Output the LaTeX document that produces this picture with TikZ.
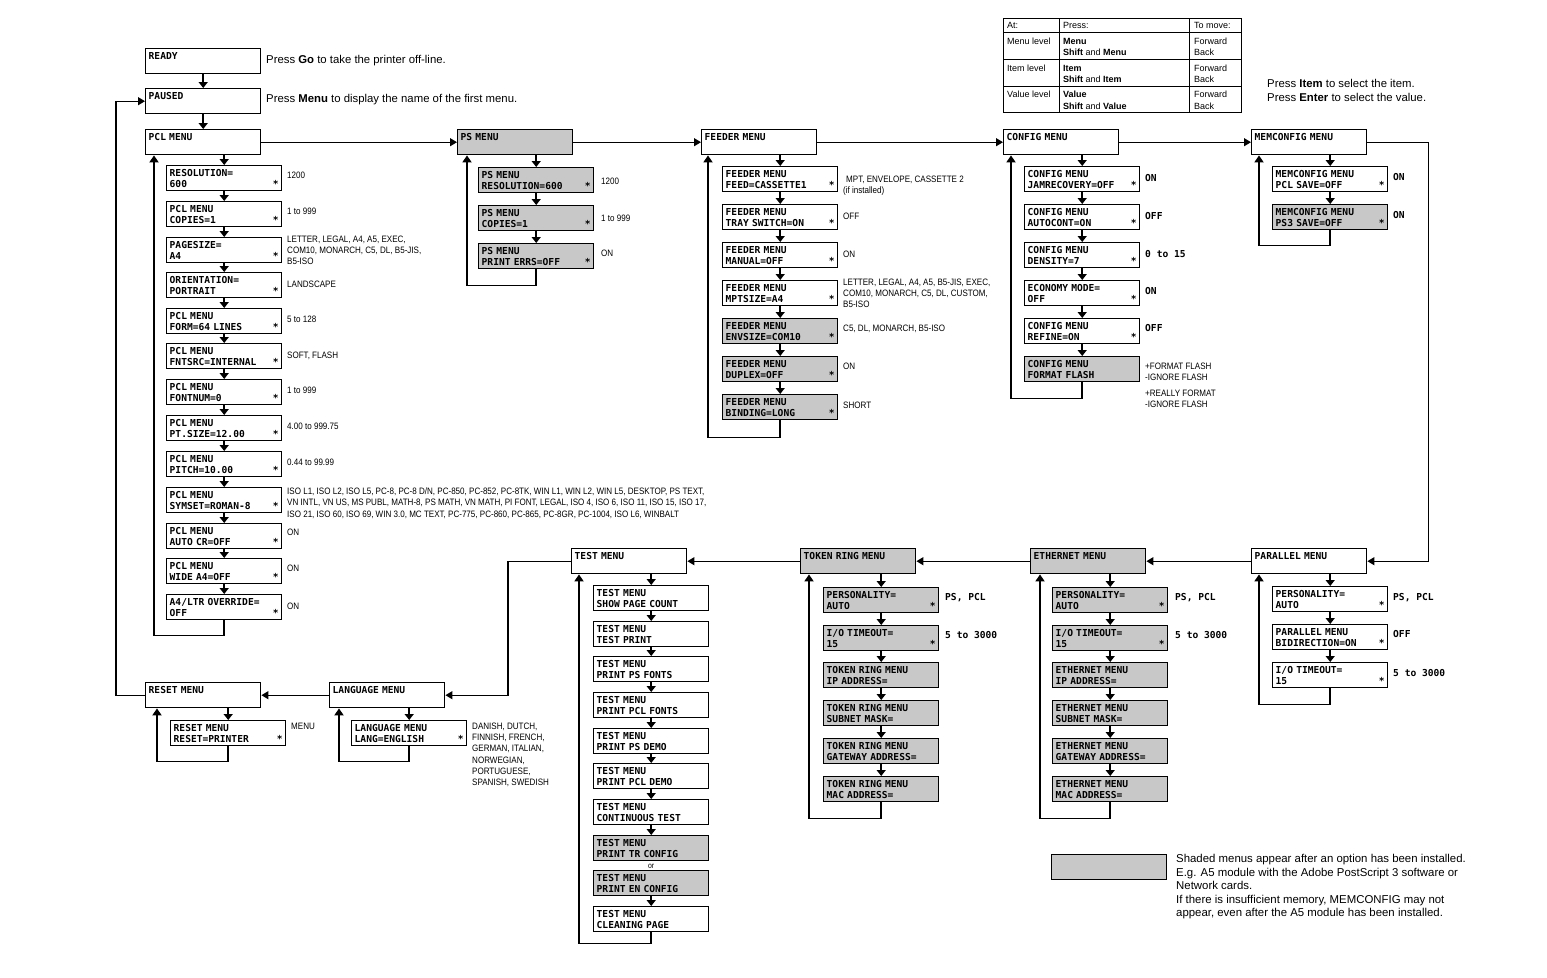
\documentclass[tikz,border=0pt]{standalone}
\usepackage{fontspec}
\setmainfont{Liberation Sans}
\newfontfamily\lcdfont{DejaVu Sans Mono}
\newfontfamily\valfont[FakeStretch=0.865]{Liberation Sans}
\usetikzlibrary{arrows.meta}
\definecolor{shade}{RGB}{200,200,200}
\tikzset{
  box/.style={draw,line width=1.4pt,anchor=north west,minimum width=115pt,minimum height=25pt,text width=109pt,inner xsep=3pt,inner ysep=1pt,align=left,font=\lcdfont\bfseries\fontsize{9.6}{10.8}\selectfont},
  sh/.style={fill=shade},
  dn/.style={line width=1.8pt,-{Triangle[width=9pt,length=6pt]}},
  ret/.style={line width=1.8pt,-{Triangle[width=9pt,length=7pt]}},
  conn/.style={line width=1.3pt,-{Triangle[width=8pt,length=7pt]}},
  val/.style={anchor=north west,inner sep=0pt,align=left,font=\valfont\fontsize{9.3}{11.3}\selectfont},
  lval/.style={anchor=north west,inner sep=0pt,font=\lcdfont\bfseries\fontsize{9.6}{11}\selectfont},
  note/.style={anchor=north west,inner sep=0pt,align=left,font=\fontsize{11.35}{14}\selectfont},
  tab/.style={anchor=west,inner sep=0pt,font=\fontsize{9}{12}\selectfont},
  grid/.style={line width=0.9pt},
}
\newcommand\stm{\hfill*}
\newcommand\ib[6][]{\node[box,#1] (#2) at (#3,#4) {#5\\#6};}
\newcommand\mb[5][]{\node[box,#1] (#2) at (#3,#4) {#5\\~};}
\newcommand\vl[5][val]{\node[#1] (#2) at (#3,#4-3.5) {#5};}
\begin{document}
\begin{tikzpicture}[x=1pt,y=-1pt]
\useasboundingbox (0,0) rectangle (1547,977);

% ---------- main menus ----------
\mb{ready}{145}{48}{READY}
\mb{paused}{145}{88}{PAUSED}
\mb{pcl}{145}{129}{PCL MENU}
\mb[sh]{ps}{457}{129}{PS MENU}
\mb{feed}{701}{129}{FEEDER MENU}
\mb{conf}{1003}{129}{CONFIG MENU}
\mb{mem}{1251}{129}{MEMCONFIG MENU}
\mb{par}{1251}{548}{PARALLEL MENU}
\mb[sh]{eth}{1030}{548}{ETHERNET MENU}
\mb[sh]{tok}{800}{548}{TOKEN RING MENU}
\mb{test}{571}{548}{TEST MENU}
\mb{lang}{329}{682}{LANGUAGE MENU}
\mb{reset}{145}{682}{RESET MENU}

\node[note] (n1) at (266,55) {Press \textbf{Go} to take the printer off-line.};
\node[note] (n2) at (266,94) {Press \textbf{Menu} to display the name of the first menu.};
\node[note] (n3) at (1267,79) {Press \textbf{Item} to select the item.\\Press \textbf{Enter} to select the value.};

\draw[dn] (ready) -- (paused);
\draw[dn] (paused) -- (pcl);
\draw[conn] (pcl) -- (ps);
\draw[conn] (ps) -- (feed);
\draw[conn] (feed) -- (conf);
\draw[conn] (conf) -- (mem);
\draw[conn] (mem.east) -- ++(61,0) |- (par.east);
\draw[conn] (par) -- (eth);
\draw[conn] (eth) -- (tok);
\draw[conn] (tok) -- (test);
\draw[conn] (test.west) -- ++(-63,0) |- (lang.east);
\draw[conn] (lang) -- (reset);
\draw[conn] (reset.west) -- ++(-29,0) |- (paused.west);

% ---------- PCL ----------
\ib{p1}{166}{165}{RESOLUTION=}{600\stm}
\ib{p2}{166}{201}{PCL MENU}{COPIES=1\stm}
\ib{p3}{166}{237}{PAGESIZE=}{A4\stm}
\ib{p4}{166}{272}{ORIENTATION=}{PORTRAIT\stm}
\ib{p5}{166}{308}{PCL MENU}{FORM=64 LINES\stm}
\ib{p6}{166}{343}{PCL MENU}{FNTSRC=INTERNAL\stm}
\ib{p7}{166}{379}{PCL MENU}{FONTNUM=0\stm}
\ib{p8}{166}{415}{PCL MENU}{PT.SIZE=12.00\stm}
\ib{p9}{166}{451}{PCL MENU}{PITCH=10.00\stm}
\ib{p10}{166}{487}{PCL MENU}{SYMSET=ROMAN-8\stm}
\ib{p11}{166}{523}{PCL MENU}{AUTO CR=OFF\stm}
\ib{p12}{166}{558}{PCL MENU}{WIDE A4=OFF\stm}
\ib{p13}{166}{594}{A4/LTR OVERRIDE=}{OFF\stm}
\draw[dn] (pcl.south -| p1.north) -- (p1.north);
\foreach \a/\b in {p1/p2,p2/p3,p3/p4,p4/p5,p5/p6,p6/p7,p7/p8,p8/p9,p9/p10,p10/p11,p11/p12,p12/p13}
  \draw[dn] (\a.south) -- (\b.north);
\draw[ret] (p13.south) -- ++(0,15) -| ([xshift=9pt]pcl.south west);

\vl{vp1}{287}{175}{1200}
\vl{vp2}{287}{211}{1 to 999}
\vl{vp3}{287}{239}{LETTER, LEGAL, A4, A5, EXEC,\\COM10, MONARCH, C5, DL, B5-JIS,\\B5-ISO}
\vl{vp4}{287}{284}{LANDSCAPE}
\vl{vp5}{287}{319}{5 to 128}
\vl{vp6}{287}{355}{SOFT, FLASH}
\vl{vp7}{287}{390}{1 to 999}
\vl{vp8}{287}{426}{4.00 to 999.75}
\vl{vp9}{287}{462}{0.44 to 99.99}
\vl{vp10}{287}{491}{ISO L1, ISO L2, ISO L5, PC-8, PC-8 D/N, PC-850, PC-852, PC-8TK, WIN L1, WIN L2, WIN L5, DESKTOP, PS TEXT,\\VN INTL, VN US, MS PUBL, MATH-8, PS MATH, VN MATH, PI FONT, LEGAL, ISO 4, ISO 6, ISO 11, ISO 15, ISO 17,\\ISO 21, ISO 60, ISO 69, WIN 3.0, MC TEXT, PC-775, PC-860, PC-865, PC-8GR, PC-1004, ISO L6, WINBALT}
\vl{vp11}{287}{532}{ON}
\vl{vp12}{287}{568}{ON}
\vl{vp13}{287}{606}{ON}

% ---------- PS ----------
\ib[sh]{s1}{478}{167}{PS MENU}{RESOLUTION=600\stm}
\ib[sh]{s2}{478}{205}{PS MENU}{COPIES=1\stm}
\ib[sh]{s3}{478}{243}{PS MENU}{PRINT ERRS=OFF\stm}
\draw[dn] (ps.south -| s1.north) -- (s1.north);
\draw[dn] (s1.south) -- (s2.north);
\draw[dn] (s2.south) -- (s3.north);
\draw[ret] (s3.south) -- ++(0,16) -| ([xshift=10pt]ps.south west);
\vl{vs1}{601}{181}{1200}
\vl{vs2}{601}{218}{1 to 999}
\vl{vs3}{601}{253}{ON}

% ---------- FEEDER ----------
\ib{f1}{722}{166}{FEEDER MENU}{FEED=CASSETTE1\stm}
\ib{f2}{722}{204}{FEEDER MENU}{TRAY SWITCH=ON\stm}
\ib{f3}{722}{242}{FEEDER MENU}{MANUAL=OFF\stm}
\ib{f4}{722}{280}{FEEDER MENU}{MPTSIZE=A4\stm}
\ib[sh]{f5}{722}{318}{FEEDER MENU}{ENVSIZE=COM10\stm}
\ib[sh]{f6}{722}{356}{FEEDER MENU}{DUPLEX=OFF\stm}
\ib[sh]{f7}{722}{394}{FEEDER MENU}{BINDING=LONG\stm}
\draw[dn] (feed.south -| f1.north) -- (f1.north);
\foreach \a/\b in {f1/f2,f2/f3,f3/f4,f4/f5,f5/f6,f6/f7}
  \draw[dn] (\a.south) -- (\b.north);
\draw[ret] (f7.south) -- ++(0,17) -| ([xshift=7pt]feed.south west);
\vl{vf1}{846}{179}{MPT, ENVELOPE, CASSETTE 2}
\vl{vf1b}{843}{190}{(if installed)}
\vl{vf2}{843}{216}{OFF}
\vl{vf3}{843}{254}{ON}
\vl{vf4}{843}{282}{LETTER, LEGAL, A4, A5, B5-JIS, EXEC,\\COM10, MONARCH, C5, DL, CUSTOM,\\B5-ISO}
\vl{vf5}{843}{328}{C5, DL, MONARCH, B5-ISO}
\vl{vf6}{843}{366}{ON}
\vl{vf7}{843}{405}{SHORT}

% ---------- CONFIG ----------
\ib{c1}{1024}{166}{CONFIG MENU}{JAMRECOVERY=OFF\stm}
\ib{c2}{1024}{204}{CONFIG MENU}{AUTOCONT=ON\stm}
\ib{c3}{1024}{242}{CONFIG MENU}{DENSITY=7\stm}
\ib{c4}{1024}{280}{ECONOMY MODE=}{OFF\stm}
\ib{c5}{1024}{318}{CONFIG MENU}{REFINE=ON\stm}
\ib[sh]{c6}{1024}{356}{CONFIG MENU}{FORMAT FLASH}
\draw[dn] (conf.south -| c1.north) -- (c1.north);
\foreach \a/\b in {c1/c2,c2/c3,c3/c4,c4/c5,c5/c6}
  \draw[dn] (\a.south) -- (\b.north);
\draw[ret] (c6.south) -- ++(0,16) -| ([xshift=8pt]conf.south west);
\vl[lval]{vc1}{1145}{178}{ON}
\vl[lval]{vc2}{1145}{216}{OFF}
\vl[lval]{vc3}{1145}{254}{0 to 15}
\vl[lval]{vc4}{1145}{291}{ON}
\vl[lval]{vc5}{1145}{328}{OFF}
\vl{vc6}{1145}{366}{+FORMAT FLASH\\-IGNORE FLASH}
\vl{vc7}{1145}{393}{+REALLY FORMAT\\-IGNORE FLASH}

% ---------- MEMCONFIG ----------
\ib{m1}{1272}{166}{MEMCONFIG MENU}{PCL SAVE=OFF\stm}
\ib[sh]{m2}{1272}{204}{MEMCONFIG MENU}{PS3 SAVE=OFF\stm}
\draw[dn] (mem.south -| m1.north) -- (m1.north);
\draw[dn] (m1.south) -- (m2.north);
\draw[ret] (m2.south) -- ++(0,15) -| ([xshift=8pt]mem.south west);
\vl[lval]{vm1}{1393}{177}{ON}
\vl[lval]{vm2}{1393}{215}{ON}

% ---------- PARALLEL ----------
\ib{r1}{1272}{586}{PERSONALITY=}{AUTO\stm}
\ib{r2}{1272}{624}{PARALLEL MENU}{BIDIRECTION=ON\stm}
\ib{r3}{1272}{662}{I/O TIMEOUT=}{15\stm}
\draw[dn] (par.south -| r1.north) -- (r1.north);
\draw[dn] (r1.south) -- (r2.north);
\draw[dn] (r2.south) -- (r3.north);
\draw[ret] (r3.south) -- ++(0,16) -| ([xshift=8pt]par.south west);
\vl[lval]{vr1}{1393}{597}{PS, PCL}
\vl[lval]{vr2}{1393}{634}{OFF}
\vl[lval]{vr3}{1393}{673}{5 to 3000}

% ---------- ETHERNET ----------
\ib[sh]{e1}{1052}{587}{PERSONALITY=}{AUTO\stm}
\ib[sh]{e2}{1052}{625}{I/O TIMEOUT=}{15\stm}
\ib[sh]{e3}{1052}{662}{ETHERNET MENU}{IP ADDRESS=}
\ib[sh]{e4}{1052}{700}{ETHERNET MENU}{SUBNET MASK=}
\ib[sh]{e5}{1052}{738}{ETHERNET MENU}{GATEWAY ADDRESS=}
\ib[sh]{e6}{1052}{776}{ETHERNET MENU}{MAC ADDRESS=}
\draw[dn] (eth.south -| e1.north) -- (e1.north);
\foreach \a/\b in {e1/e2,e2/e3,e3/e4,e4/e5,e5/e6}
  \draw[dn] (\a.south) -- (\b.north);
\draw[ret] (e6.south) -- ++(0,16) -| ([xshift=10pt]eth.south west);
\vl[lval]{ve1}{1175}{597}{PS, PCL}
\vl[lval]{ve2}{1175}{635}{5 to 3000}

% ---------- TOKEN RING ----------
\ib[sh]{t1}{823}{587}{PERSONALITY=}{AUTO\stm}
\ib[sh]{t2}{823}{625}{I/O TIMEOUT=}{15\stm}
\ib[sh]{t3}{823}{662}{TOKEN RING MENU}{IP ADDRESS=}
\ib[sh]{t4}{823}{700}{TOKEN RING MENU}{SUBNET MASK=}
\ib[sh]{t5}{823}{738}{TOKEN RING MENU}{GATEWAY ADDRESS=}
\ib[sh]{t6}{823}{776}{TOKEN RING MENU}{MAC ADDRESS=}
\draw[dn] (tok.south -| t1.north) -- (t1.north);
\foreach \a/\b in {t1/t2,t2/t3,t3/t4,t4/t5,t5/t6}
  \draw[dn] (\a.south) -- (\b.north);
\draw[ret] (t6.south) -- ++(0,16) -| ([xshift=9pt]tok.south west);
\vl[lval]{vt1}{945}{597}{PS, PCL}
\vl[lval]{vt2}{945}{635}{5 to 3000}

% ---------- TEST ----------
\ib{x1}{593}{585}{TEST MENU}{SHOW PAGE COUNT}
\ib{x2}{593}{621}{TEST MENU}{TEST PRINT}
\ib{x3}{593}{656}{TEST MENU}{PRINT PS FONTS}
\ib{x4}{593}{692}{TEST MENU}{PRINT PCL FONTS}
\ib{x5}{593}{728}{TEST MENU}{PRINT PS DEMO}
\ib{x6}{593}{763}{TEST MENU}{PRINT PCL DEMO}
\ib{x7}{593}{799}{TEST MENU}{CONTINUOUS TEST}
\ib[sh]{x8}{593}{835}{TEST MENU}{PRINT TR CONFIG}
\ib[sh]{x9}{593}{870}{TEST MENU}{PRINT EN CONFIG}
\ib{x10}{593}{906}{TEST MENU}{CLEANING PAGE}
\draw[dn] (test.south -| x1.north) -- (x1.north);
\foreach \a/\b in {x1/x2,x2/x3,x3/x4,x4/x5,x5/x6,x6/x7,x7/x8,x9/x10}
  \draw[dn] (\a.south) -- (\b.north);
\node[inner sep=0pt,font=\valfont\fontsize{8}{9}\selectfont] (ortext) at ([yshift=-4.5pt]x8.south) {or};
\draw[ret] (x10.south) -- ++(0,11) -| ([xshift=8pt]test.south west);

% ---------- LANGUAGE ----------
\ib{l1}{351}{720}{LANGUAGE MENU}{LANG=ENGLISH\stm}
\draw[dn] (lang.south -| l1.north) -- (l1.north);
\draw[ret] (l1.south) -- ++(0,15) -| ([xshift=10pt]lang.south west);
\vl{vl1}{472}{726}{DANISH, DUTCH,\\FINNISH, FRENCH,\\GERMAN, ITALIAN,\\NORWEGIAN,\\PORTUGUESE,\\SPANISH, SWEDISH}

% ---------- RESET ----------
\ib{rs1}{170}{720}{RESET MENU}{RESET=PRINTER\stm}
\draw[dn] (reset.south -| rs1.north) -- (rs1.north);
\draw[ret] (rs1.south) -- ++(0,15) -| ([xshift=12pt]reset.south west);
\vl{vrs1}{291}{726}{MENU}

% ---------- key table ----------
\draw[grid] (1003,18) rectangle (1241,112);
\draw[grid] (1003,32) -- (1241,32);
\draw[grid] (1003,59) -- (1241,59);
\draw[grid] (1003,86) -- (1241,86);
\draw[grid] (1059,18) -- (1059,112);
\draw[grid] (1189,18) -- (1189,112);
\node[tab] (ta1) at (1007,25) {At:};
\node[tab] (ta2) at (1063,25) {Press:};
\node[tab] (ta3) at (1194,25) {To move:};
\node[tab] (tb1) at (1007,41) {Menu level};
\node[tab] (tb2) at (1063,41) {\textbf{Menu}};
\node[tab] (tb3) at (1063,52) {\textbf{Shift} and \textbf{Menu}};
\node[tab] (tb4) at (1194,41) {Forward};
\node[tab] (tb5) at (1194,52) {Back};
\node[tab] (tc1) at (1007,68) {Item level};
\node[tab] (tc2) at (1063,68) {\textbf{Item}};
\node[tab] (tc3) at (1063,79) {\textbf{Shift} and \textbf{Item}};
\node[tab] (tc4) at (1194,68) {Forward};
\node[tab] (tc5) at (1194,79) {Back};
\node[tab] (td1) at (1007,94) {Value level};
\node[tab] (td2) at (1063,94) {\textbf{Value}};
\node[tab] (td3) at (1063,106) {\textbf{Shift} and \textbf{Value}};
\node[tab] (td4) at (1194,94) {Forward};
\node[tab] (td5) at (1194,106) {Back};

% ---------- legend ----------
\node[draw,fill=shade,line width=1pt,anchor=north west,minimum width=115pt,minimum height=25pt,inner sep=0pt] (leg) at (1051,854) {};
\node[note,font=\fontsize{11.4}{13.6}\selectfont] (legtext) at (1176,854) {Shaded menus appear after an option has been installed.\\E.g. A5 module with the Adobe PostScript 3 software or\\Network cards.\\If there is insufficient memory, MEMCONFIG may not\\appear, even after the A5 module has been installed.};
\end{tikzpicture}
\end{document}
